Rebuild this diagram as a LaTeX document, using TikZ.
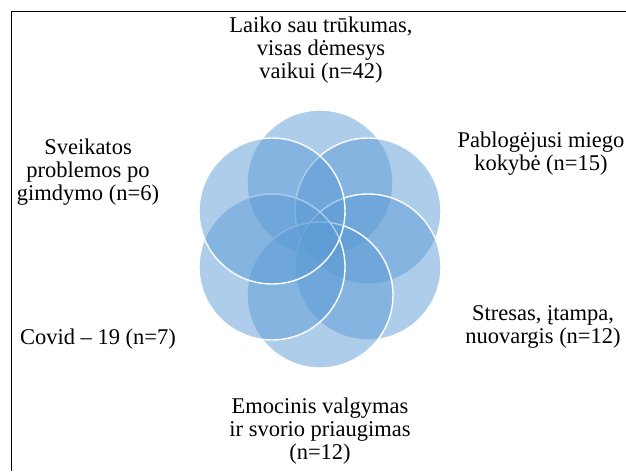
\documentclass[tikz,border=0pt]{standalone}
\usepackage{fontspec}
\setmainfont{Liberation Serif}
\usepackage{tikz}
\usepackage{xcolor}
\definecolor{petalblue}{RGB}{91,155,213}

\begin{document}
\begin{tikzpicture}[x=1pt,y=-1pt,
    petal/.style={circle,draw=white,line width=1.4pt,fill=petalblue,fill opacity=0.5,draw opacity=1,minimum size=146pt,inner sep=0pt},
    lbl/.style={align=center,inner sep=0pt,font=\fontsize{22.5}{22.8}\selectfont}]
    \useasboundingbox (0,0) rectangle (626,471);
    \draw[line width=0.8pt] (626,11) -- (11,11) -- (11,471);

    \node[petal] (time) at (320,183) {};
    \node[petal] (sleep) at (368,211) {};
    \node[petal] (stress) at (368,267) {};
    \node[petal] (eating) at (320,295) {};
    \node[petal] (covid) at (272,267) {};
    \node[petal] (health) at (272,211) {};

    \node[lbl] (timetxt) at (321,50) {Laiko sau trūkumas,\\visas dėmesys\\vaikui (n=42)};
    \node[lbl] (sleeptxt) at (541,154) {Pablogėjusi miego\\kokybė (n=15)};
    \node[lbl] (stresstxt) at (543,327) {Stresas, įtampa,\\nuovargis (n=12)};
    \node[lbl] (eatingtxt) at (320,431) {Emocinis valgymas\\ir svorio priaugimas\\(n=12)};
    \node[lbl] (covidtxt) at (98,339) {Covid – 19 (n=7)};
    \node[lbl] (healthtxt) at (88,172) {Sveikatos\\problemos po\\gimdymo (n=6)};
\end{tikzpicture}
\end{document}
